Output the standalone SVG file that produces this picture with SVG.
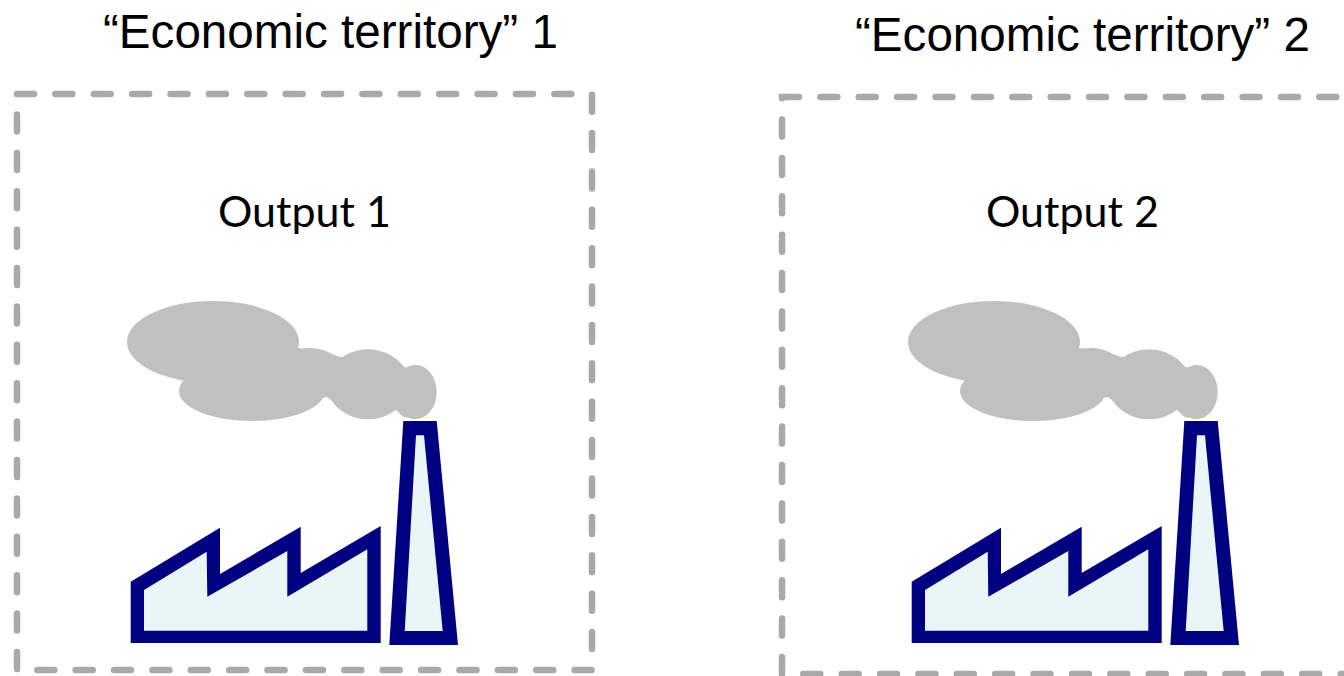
<svg xmlns="http://www.w3.org/2000/svg" width="1344" height="676" viewBox="0 0 1344 676">
<style>
.title{font-family:"Liberation Sans",Arial,sans-serif;font-size:47.6px;fill:#000}
.out{font-family:"Lato","Open Sans",sans-serif;font-size:43px;fill:#000}
.box{fill:none;stroke:#a9a9a9;stroke-width:6.5;stroke-linecap:round;stroke-dasharray:17 21.38}
.smoke{fill:#c0c0c0}
.navy{fill:#000080;stroke:none}
.pale{fill:#e9f5f7;stroke:none}
</style>
<defs>
<g id="factory">
<g class="smoke">
<ellipse cx="213" cy="342" rx="86" ry="41"/>
<ellipse cx="252" cy="391" rx="73" ry="30"/>
<ellipse cx="310" cy="373" rx="34" ry="25"/>
<ellipse cx="368" cy="384.3" rx="41" ry="35"/>
<ellipse cx="415.7" cy="392" rx="21" ry="27"/>
<polygon points="298,348 323,351 340,357 393,357 405,367.5 415,366 415,419 403,416.7 396,410 370,415 345,412 331,400 327,397 321,398 296,415 250,400 184,383 298,340"/>
</g>
<polygon class="navy" points="130.7,581.7 220,527.7 220,574 300.7,526.7 300.7,573 380.7,526 380.7,643 130.7,643"/>
<polygon class="pale" points="144,590 206.7,551.7 207.3,596.7 287.3,551 287.3,596.7 367.3,549.3 367.3,630.7 144,630.7"/>
<polygon class="navy" points="403.3,421 436.7,421 458,645 389.3,645"/>
<polygon class="pale" points="416,435.3 424,435.3 442.7,631 404.7,631"/>
</g>
</defs>
<g id="territory-1">
<rect class="box" x="17" y="94" width="575" height="576"/>
<text class="title" x="103" y="48">“Economic territory” 1</text>
</g>
<g id="output-1">
<text class="out" x="218" y="227">Output 1</text>
<use href="#factory"/>
</g>
<g id="territory-2">
<rect class="box" x="782" y="97" width="575" height="577"/>
<text class="title" x="855" y="51">“Economic territory” 2</text>
</g>
<g id="output-2">
<text class="out" x="986" y="227">Output 2</text>
<use href="#factory" x="781"/>
</g>
<g id="connectors"/>
</svg>
